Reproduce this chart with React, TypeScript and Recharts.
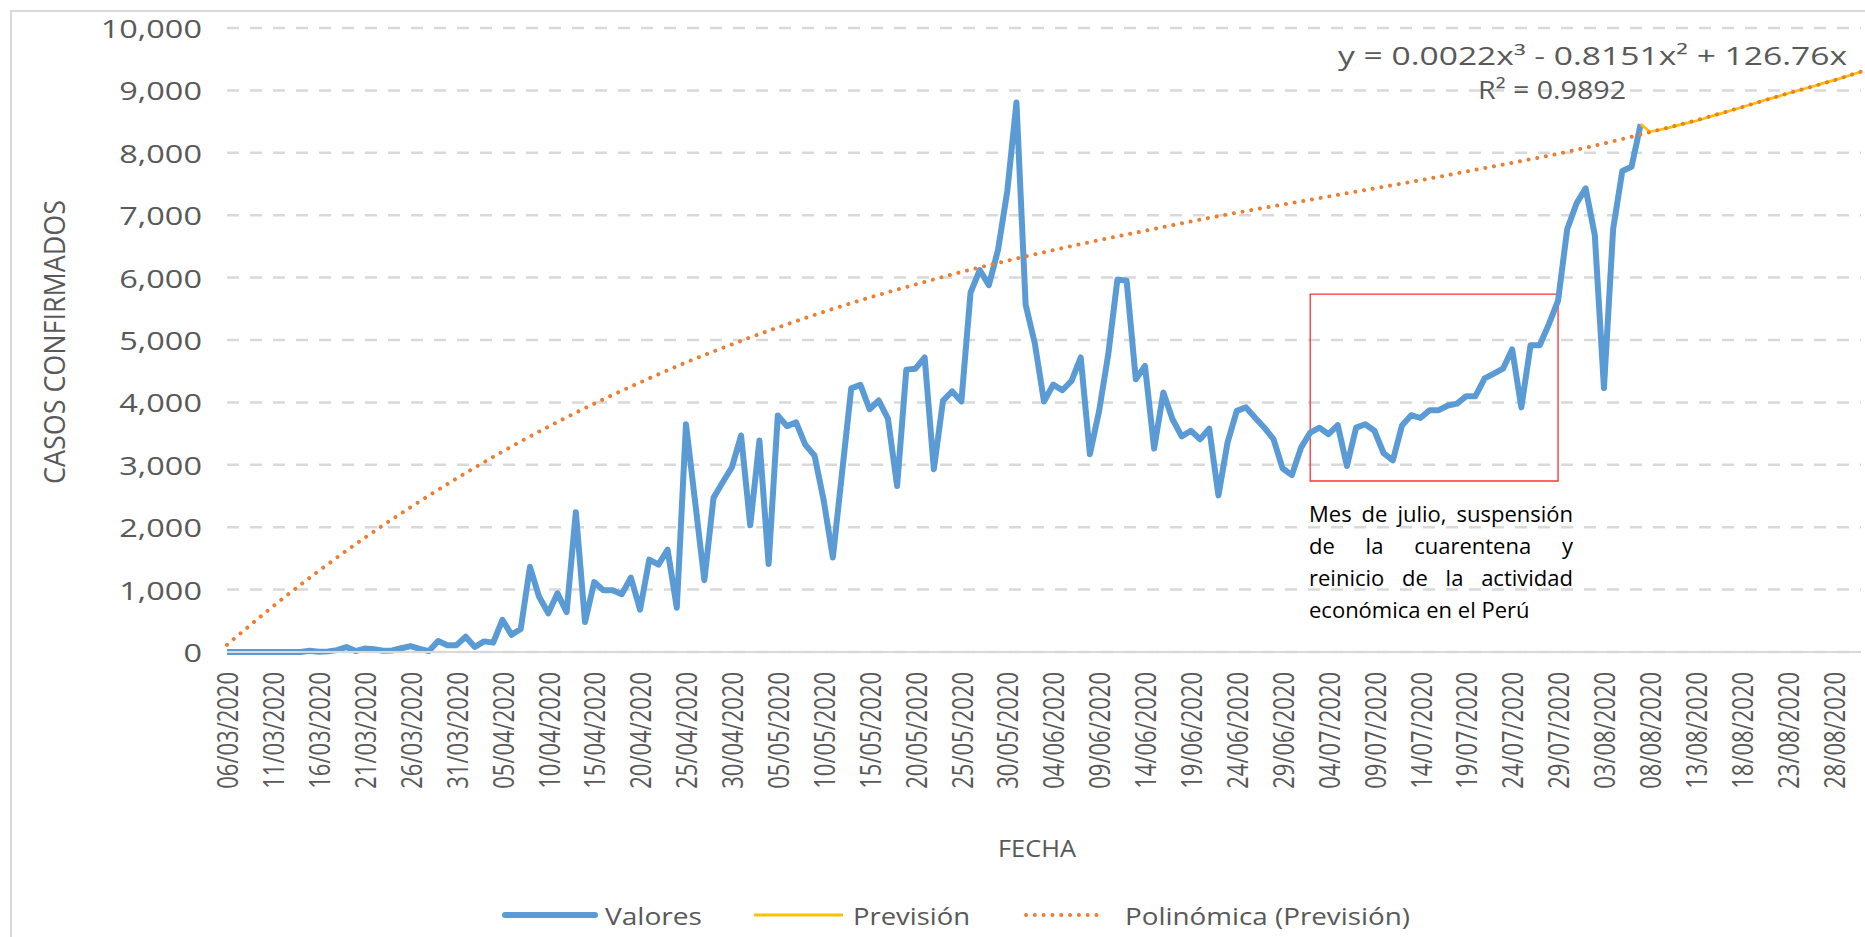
import React from 'react';
import { LineChart, Line, XAxis, YAxis, CartesianGrid, ReferenceArea } from 'recharts';

// casos diarios desde el 06/03/2020
const valores = [
  0, 0, 0, 0, 0, 0, 0, 0, 0, 20,
  5, 10, 30, 80, 15, 55, 45, 20, 25, 60,
  95, 50, 15, 175, 110, 110, 245, 80, 170, 150,
  515, 275, 370, 1365, 885, 620, 940, 640, 2240, 480,
  1120, 990, 990, 925, 1190, 680, 1480, 1400, 1640, 710,
  3650, 2400, 1150, 2470, 2720, 2960, 3470, 2030, 3390, 1410,
  3790, 3620, 3680, 3320, 3150, 2430, 1515, 2870, 4225, 4280,
  3890, 4030, 3740, 2660, 4525, 4540, 4720, 2930, 4030, 4175,
  4015, 5760, 6120, 5880, 6450, 7385, 8805, 5565, 4946, 4015,
  4285, 4195, 4345, 4720, 3170, 3860, 4770, 5970, 5950, 4370,
  4585, 3260, 4160, 3730, 3455, 3545, 3410, 3580, 2510, 3360,
  3865, 3920, 3755, 3595, 3410, 2940, 2835, 3275, 3515, 3595,
  3490, 3635, 2980, 3595, 3650, 3545, 3185, 3070, 3630, 3795,
  3750, 3875, 3875, 3950, 3980, 4100, 4100, 4385, 4460, 4540,
  4850, 3920, 4915, 4915, 5255, 5630, 6780, 7185, 7430, 6685,
  4230, 6780, 7710, 7775, 8460,
];

// previsión desde el 07/08/2020
const inicioPrevision = 154;
const prevision = [
  8460, 8335, 8365, 8400, 8440, 8475, 8510, 8555, 8600, 8640,
  8685, 8730, 8775, 8820, 8865, 8905, 8950, 8990, 9035, 9075,
  9120, 9160, 9205, 9250, 9300,
];

// línea de tendencia polinómica, leída cada 5 días
const diasTendencia = [
  0, 5, 10, 15, 20, 25, 30, 35, 40, 45, 50, 55, 60, 65, 70, 75, 80, 85, 90,
  95, 100, 105, 110, 115, 120, 125, 130, 135, 140, 145, 150, 155, 160, 165, 170, 175, 178,
];
const tendencia = [
  115, 730, 1300, 1830, 2320, 2780, 3210, 3610, 3980, 4320, 4640, 4930, 5200, 5450, 5680, 5890, 6090, 6270, 6440,
  6600, 6750, 6900, 7040, 7170, 7300, 7430, 7560, 7700, 7840, 7985, 8150, 8330, 8520, 8730, 8950, 9160, 9300,
];

const ticksY = [0, 1000, 2000, 3000, 4000, 5000, 6000, 7000, 8000, 9000, 10000];
const totalDias = 179; // 06/03/2020 .. 31/08/2020

const nota = ['Mes de julio, suspensión', 'de la cuarentena y', 'reinicio de la actividad', 'económica en el Perú'];

const pad = (n: number) => String(n).padStart(2, '0');
const fechas = Array.from({ length: totalDias }, (_, i) => {
  const d = new Date(2020, 2, 6 + i);
  return `${pad(d.getDate())}/${pad(d.getMonth() + 1)}/${d.getFullYear()}`;
});

const data = fechas.map((fecha, i) => {
  const t = diasTendencia.indexOf(i);
  const p = i - inicioPrevision;
  return {
    fecha,
    valores: i < valores.length ? valores[i] : null,
    prevision: p >= 0 && p < prevision.length ? prevision[p] : null,
    tendencia: t >= 0 ? tendencia[t] : null,
  };
});

const fuente = "'Open Sans', 'DejaVu Sans', sans-serif";
const gris = '#595959';

const TickFecha = (props: any) => (
  <text
    transform={`translate(${props.x},672) scale(1.3,1) rotate(-90)`}
    textAnchor="end"
    dominantBaseline="central"
    fontSize={22}
    fontFamily={fuente}
    fill={gris}
  >
    {props.payload.value}
  </text>
);

const TickCasos = (props: any) => (
  <text
    transform={`translate(202,${props.y}) scale(1.3,1)`}
    textAnchor="end"
    dominantBaseline="central"
    fontSize={25}
    fontFamily={fuente}
    fill={gris}
  >
    {Number(props.payload.value).toLocaleString('en-US')}
  </text>
);

export default function App() {
  return (
    <div style={{ position: 'absolute', left: 0, top: 0, width: 1865, height: 937, overflow: 'hidden', background: '#fff' }}>
      <div style={{ position: 'absolute', left: 10, top: 10, width: 1900, height: 960, border: '2px solid #D9D9D9' }} />
      <div style={{ position: 'absolute', left: 0, top: 0 }}>
        <LineChart width={1865} height={937} data={data} margin={{ top: 28, right: 4, bottom: 0, left: 0 }}>
          <CartesianGrid vertical={false} stroke="#D9D9D9" strokeWidth={2.5} strokeDasharray="12 11" />
          <XAxis
            dataKey="fecha"
            interval={4}
            height={285}
            tickLine={false}
            axisLine={{ stroke: '#D9D9D9', strokeWidth: 2 }}
            tick={TickFecha}
          />
          <YAxis
            width={227}
            domain={[0, 10000]}
            ticks={ticksY}
            interval={0}
            axisLine={false}
            tickLine={false}
            tick={TickCasos}
          />
          <ReferenceArea
            x1="02/07/2020"
            x2="29/07/2020"
            y1={2740}
            y2={5735}
            fill="none"
            fillOpacity={0}
            stroke="#FF3030"
            strokeWidth={1.3}
            ifOverflow="visible"
          />
          <Line
            type="linear"
            dataKey="valores"
            name="Valores"
            stroke="#5B9BD5"
            strokeWidth={6}
            strokeLinejoin="round"
            dot={false}
            isAnimationActive={false}
          />
          <Line
            type="linear"
            dataKey="prevision"
            name="Previsión"
            stroke="#FFC000"
            strokeWidth={2.7}
            dot={false}
            isAnimationActive={false}
          />
          <Line
            type="monotone"
            dataKey="tendencia"
            name="Polinómica (Previsión)"
            stroke="#ED7D31"
            strokeWidth={4}
            strokeDasharray="0.01 8.8"
            strokeLinecap="round"
            connectNulls
            dot={false}
            isAnimationActive={false}
          />
        </LineChart>
      </div>
      <svg width={1865} height={937} style={{ position: 'absolute', left: 0, top: 0, pointerEvents: 'none' }} fontFamily={fuente}>
        <text
          transform="translate(54,342) scale(1.3,1) rotate(-90)"
          textAnchor="middle"
          dominantBaseline="central"
          fontSize={22}
          fill={gris}
          textLength={284}
          lengthAdjust="spacingAndGlyphs"
        >
          CASOS CONFIRMADOS
        </text>
        <text x={1037} y={847} textAnchor="middle" dominantBaseline="central" fontSize={24} fill={gris} textLength={78} lengthAdjust="spacingAndGlyphs">
          FECHA
        </text>
        <text x={1338} y={55} dominantBaseline="central" fontSize={25} fill={gris} textLength={509} lengthAdjust="spacingAndGlyphs">
          y = 0.0022x³ - 0.8151x² + 126.76x
        </text>
        <text x={1478} y={89} dominantBaseline="central" fontSize={25} fill={gris} textLength={148} lengthAdjust="spacingAndGlyphs">
          R² = 0.9892
        </text>
        <line x1={505} x2={595} y1={915} y2={915} stroke="#5B9BD5" strokeWidth={6} strokeLinecap="round" />
        <text x={605} y={915} dominantBaseline="central" fontSize={24} fill={gris} textLength={97} lengthAdjust="spacingAndGlyphs">
          Valores
        </text>
        <line x1={754} x2={843} y1={915} y2={915} stroke="#FFC000" strokeWidth={3} />
        <text x={853} y={915} dominantBaseline="central" fontSize={24} fill={gris} textLength={117} lengthAdjust="spacingAndGlyphs">
          Previsión
        </text>
        <line x1={1026} x2={1105} y1={915} y2={915} stroke="#ED7D31" strokeWidth={4} strokeDasharray="0.01 8.8" strokeLinecap="round" />
        <text x={1125} y={915} dominantBaseline="central" fontSize={24} fill={gris} textLength={285} lengthAdjust="spacingAndGlyphs">
          Polinómica (Previsión)
        </text>
      </svg>
      <div style={{ position: 'absolute', left: 1309, top: 497, width: 264, fontFamily: fuente, fontSize: 22, lineHeight: '32px', color: '#000' }}>
        {nota.map((linea, i) => (
          <div
            key={linea}
            style={{ textAlign: i < nota.length - 1 ? 'justify' : 'left', textAlignLast: i < nota.length - 1 ? 'justify' : 'left', whiteSpace: 'nowrap' }}
          >
            {linea}
          </div>
        ))}
      </div>
    </div>
  );
}
